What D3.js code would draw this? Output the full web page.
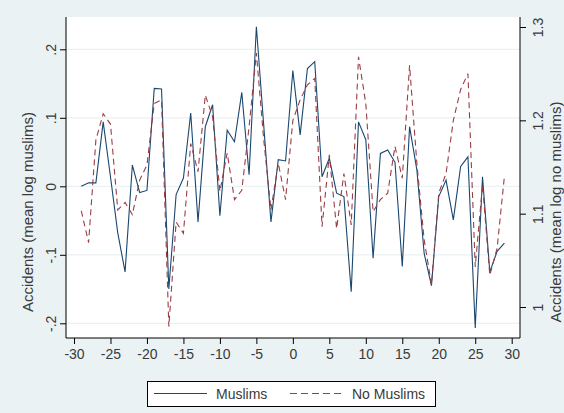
<!DOCTYPE html>
<html>
<head>
<meta charset="utf-8">
<script src="https://cdn.jsdelivr.net/npm/d3@7"></script>
<style>
  body { margin: 0; background: #eaf2f3; }
  text { font-family: "Liberation Sans", Arial, sans-serif; fill: #3a3a3a; }
</style>
</head>
<body>
<div id="chart"></div>
<script>
// event time (days)
var days = d3.range(-29, 30);

// Muslims, left axis
var muslims = [
  0.000, 0.005, 0.005, 0.094, 0.014, -0.068, -0.125, 0.031, -0.009, -0.006,
  0.143, 0.142, -0.150, -0.012, 0.012, 0.107, -0.052, 0.087, 0.119, -0.043,
  0.082, 0.065, 0.137, 0.017, 0.233, 0.090, -0.052, 0.039, 0.037, 0.169,
  0.075, 0.172, 0.182, 0.014, 0.041, -0.010, -0.015, -0.154, 0.094, 0.068,
  -0.105, 0.048, 0.053, 0.035, -0.117, 0.087, 0.024, -0.098, -0.145, -0.015,
  0.009, -0.049, 0.029, 0.043, -0.207, 0.014, -0.125, -0.095, -0.083
];

// No Muslims, right axis
var noMuslims = [
  1.103, 1.069, 1.179, 1.207, 1.196, 1.104, 1.112, 1.099, 1.136, 1.152,
  1.218, 1.222, 0.979, 1.091, 1.079, 1.175, 1.145, 1.227, 1.204, 1.124,
  1.165, 1.115, 1.125, 1.193, 1.272, 1.180, 1.104, 1.154, 1.115, 1.200,
  1.222, 1.238, 1.245, 1.086, 1.163, 1.084, 1.143, 1.088, 1.268, 1.218,
  1.102, 1.115, 1.122, 1.172, 1.138, 1.259, 1.154, 1.072, 1.024, 1.122,
  1.143, 1.200, 1.233, 1.250, 1.043, 1.131, 1.034, 1.063, 1.140
];

var xTicks = d3.range(-30, 31, 5);
var leftTicks = [-0.2, -0.1, 0, 0.1, 0.2];
var rightTicks = [1, 1.1, 1.2, 1.3];

var w = 564, h = 413;
var plotL = 66, plotR = 520, plotT = 17, plotB = 338;

var svg = d3.select("#chart").append("svg")
    .attr("width", w)
    .attr("height", h);

svg.append("rect")
    .attr("width", w).attr("height", h)
    .style("fill", "#eaf2f3");

svg.append("rect")
    .attr("x", plotL).attr("y", plotT)
    .attr("width", plotR - plotL).attr("height", plotB - plotT)
    .style("fill", "white");

var x = d3.scaleLinear().domain([-30, 30]).range([74, 511.7]);
var yL = d3.scaleLinear().domain([-0.2, 0.2]).range([323.3, 49.3]);
var yR = d3.scaleLinear().domain([1, 1.3]).range([307, 27]);

// gridlines
svg.append("g").selectAll("line").data(leftTicks).enter()
  .append("line")
    .attr("x1", plotL).attr("x2", plotR)
    .attr("y1", function(d){ return yL(d); })
    .attr("y2", function(d){ return yL(d); })
    .style("stroke", "#eaf2f3")
    .style("stroke-width", 1.2);

// Stata style labels: ".1", "-.2", plain hyphen
var fmtL = function(d){
  if (d === 0) return "0";
  return d3.format(".1f")(d).replace("\u2212", "-").replace("0.", ".");
};
var fmtX = function(d){ return String(d); };

// left axis
var gl = svg.append("g")
    .attr("transform", "translate(" + plotL + ",0)")
    .call(d3.axisLeft(yL).tickValues(leftTicks).tickFormat(fmtL).tickSize(6).tickSizeOuter(0));
gl.select(".domain").remove();
gl.append("line").attr("y1", plotT).attr("y2", plotB).style("stroke", "black");
gl.selectAll(".tick text")
    .attr("transform", "rotate(-90)")
    .attr("x", 0).attr("y", -10).attr("dy", 0)
    .style("text-anchor", "middle")
    .style("font-size", "14px");

// right axis
var gr = svg.append("g")
    .attr("transform", "translate(" + plotR + ",0)")
    .call(d3.axisRight(yR).tickValues(rightTicks).tickFormat(fmtX).tickSize(6).tickSizeOuter(0));
gr.select(".domain").remove();
gr.append("line").attr("y1", plotT).attr("y2", plotB).style("stroke", "black");
gr.selectAll(".tick text")
    .attr("transform", "rotate(-90)")
    .attr("x", 0).attr("y", 23).attr("dy", 0)
    .style("text-anchor", "middle")
    .style("font-size", "14px");

// bottom axis
var gb = svg.append("g")
    .attr("transform", "translate(0," + plotB + ")")
    .call(d3.axisBottom(x).tickValues(xTicks).tickFormat(fmtX).tickSize(6).tickSizeOuter(0));
gb.select(".domain").remove();
gb.append("line").attr("x1", plotL).attr("x2", plotR).style("stroke", "black");
gb.selectAll(".tick text")
    .attr("y", 9).attr("dy", "0.85em")
    .style("font-size", "14px");

// axis titles
svg.append("text")
    .attr("transform", "translate(33,212) rotate(-90)")
    .style("text-anchor", "middle")
    .style("font-size", "15px")
    .text("Accidents (mean log muslims)");

svg.append("text")
    .attr("transform", "translate(561,212) rotate(-90)")
    .style("text-anchor", "middle")
    .style("font-size", "15px")
    .text("Accidents (mean log no muslims)");

// lines
var lineL = d3.line()
    .x(function(d, i){ return x(days[i]); })
    .y(function(d){ return yL(d); });
var lineR = d3.line()
    .x(function(d, i){ return x(days[i]); })
    .y(function(d){ return yR(d); });

svg.append("path")
    .datum(muslims)
    .attr("d", lineL)
    .style("fill", "none")
    .style("stroke", "#1a476f")
    .style("stroke-width", 1.1);

svg.append("path")
    .datum(noMuslims)
    .attr("d", lineR)
    .style("fill", "none")
    .style("stroke", "#9a3d44")
    .style("stroke-width", 1.1)
    .style("stroke-dasharray", "6,4");

// legend
var legend = svg.append("g").attr("class", "legend");
legend.append("rect")
    .attr("x", 147.5).attr("y", 381.5)
    .attr("width", 288).attr("height", 25)
    .style("fill", "white")
    .style("stroke", "black");

legend.append("line")
    .attr("x1", 154).attr("x2", 207).attr("y1", 393.5).attr("y2", 393.5)
    .style("stroke", "#1a476f").style("stroke-width", 1.1);
legend.append("text")
    .attr("x", 216).attr("y", 399)
    .style("font-size", "14px")
    .text("Muslims");

legend.append("line")
    .attr("x1", 290).attr("x2", 343).attr("y1", 393.5).attr("y2", 393.5)
    .style("stroke", "#9a3d44").style("stroke-width", 1.1)
    .style("stroke-dasharray", "7,4");
legend.append("text")
    .attr("x", 352).attr("y", 399)
    .style("font-size", "14px")
    .text("No Muslims");
</script>
</body>
</html>
